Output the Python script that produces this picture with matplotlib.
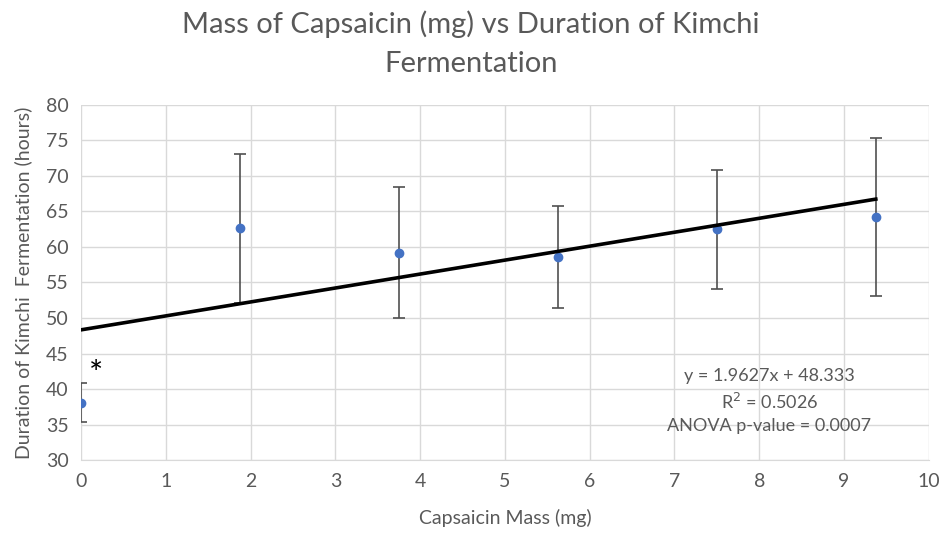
import matplotlib
matplotlib.use("Agg")
import matplotlib.pyplot as plt
import numpy as np

plt.rcParams['font.family'] = ['Lato', 'DejaVu Sans']

# Data
mass_mg = [0, 1.875, 3.75, 5.625, 7.5, 9.375]
duration_h = [38.1, 62.6, 59.2, 58.6, 62.5, 64.2]
error_h = [2.7, 10.5, 9.2, 7.2, 8.4, 11.1]
slope = 1.9627
intercept = 48.333
x_ticks = list(range(0, 11))
y_ticks = list(range(30, 81, 5))
title = "Mass of Capsaicin (mg) vs Duration of Kimchi\nFermentation"
xlabel = "Capsaicin Mass (mg)"
ylabel = "Duration of Kimchi  Fermentation (hours)"
annot = "y = 1.9627x + 48.333\nR$^2$ = 0.5026\nANOVA p-value = 0.0007"

gray = "#595959"
grid = "#d9d9d9"

fig = plt.figure(figsize=(9.42, 5.35), dpi=100)
ax = fig.add_axes([0.086, 0.140, 0.900, 0.664])

ax.set_xlim(0, 10)
ax.set_ylim(30, 80)
ax.set_xticks(x_ticks)
ax.set_yticks(y_ticks)
ax.grid(True, color=grid, lw=1.0)
ax.set_axisbelow(True)
for s in ['top', 'right', 'left']:
    ax.spines[s].set_visible(False)
ax.spines['bottom'].set_color(grid)
ax.tick_params(axis='both', length=0, colors=gray, labelsize=14, pad=9)

ax.errorbar(mass_mg, duration_h, yerr=error_h, fmt='none', ecolor='#505050',
            elinewidth=1.2, capsize=4, capthick=1.2, zorder=3)
ax.plot(mass_mg, duration_h, 'o', color='#4472C4', markersize=6, zorder=4)

xt = np.array([mass_mg[0], mass_mg[-1]])
ax.plot(xt, slope * xt + intercept, color='black', lw=2.6, zorder=5)

ax.text(0.18, 42.0, "*", fontsize=24, ha='center', va='center', color='black')
ax.text(8.12, 38.3, annot, ha='center', va='center', fontsize=13,
        color=gray, linespacing=1.45)

fig.suptitle(title, x=0.5, y=0.98, fontsize=21, color=gray, linespacing=1.6)
ax.set_xlabel(xlabel, fontsize=14, color=gray, labelpad=14)
ax.set_ylabel(ylabel, fontsize=14, color=gray, labelpad=10)

fig.savefig("out.png", dpi=100)
